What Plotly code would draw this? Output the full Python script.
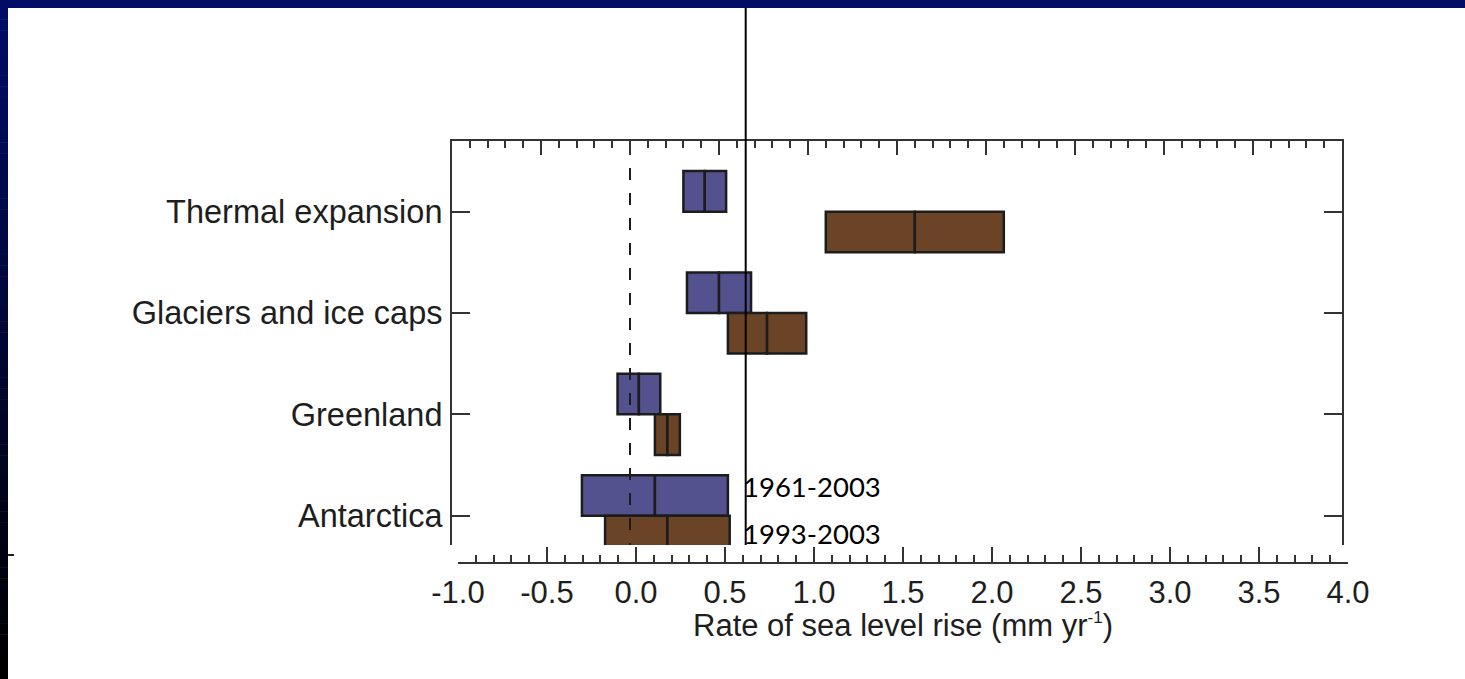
import plotly.graph_objects as go

# ---- data ----
components = ["Thermal expansion", "Glaciers and ice caps", "Greenland", "Antarctica"]
rate_1961_2003 = [0.42, 0.50, 0.05, 0.14]
err_1961_2003 = [0.12, 0.18, 0.12, 0.41]
rate_1993_2003 = [1.60, 0.77, 0.21, 0.21]
err_1993_2003 = [0.50, 0.22, 0.07, 0.35]
period_labels = ["1961-2003", "1993-2003"]
x_tick_values = [-1.0, -0.5, 0.0, 0.5, 1.0, 1.5, 2.0, 2.5, 3.0, 3.5, 4.0]
x_tick_labels = ["-1.0", "-0.5", "0.0", "0.5", "1.0", "1.5", "2.0", "2.5", "3.0", "3.5", "4.0"]
x_title = 'Rate of sea level rise (mm yr<sup><span style="font-size:17px">-1</span></sup>)'

# ---- layout geometry (pixels) ----
W, H = 1465, 679
L, R = 452, 1348          # plot area left/right (incl. shifted bottom axis)
T, B = 141, 563           # plot area top/bottom (bottom axis line)
BOX_R = 1342              # right edge of framed box
BOX_B = 545               # bottom edge of framed box
PW, PH = R - L, B - T

BLUE = "#54518F"
BROWN = "#6B4327"
EDGE = "#1c1c1c"
AX = "#333333"
TXT = "#1e1e1e"
FONT = "Liberation Sans, Arial, sans-serif"

ypos = [len(components) - 1 - i for i in range(len(components))]
bar_h = 0.4

fig = go.Figure()


def add_period(rates, errs, color, offset):
    lows = [r - e for r, e in zip(rates, errs)]
    highs = [r + e for r, e in zip(rates, errs)]
    # lower half (low -> median)
    fig.add_trace(go.Bar(
        orientation="h", y=ypos, base=lows,
        x=[r - lo for r, lo in zip(rates, lows)],
        width=bar_h, offset=offset,
        marker=dict(color=color, line=dict(color=EDGE, width=2.5)),
        showlegend=False, hoverinfo="skip"))
    # upper half (median -> high)
    fig.add_trace(go.Bar(
        orientation="h", y=ypos, base=rates,
        x=[hi - r for r, hi in zip(rates, highs)],
        width=bar_h, offset=offset,
        marker=dict(color=color, line=dict(color=EDGE, width=2.5)),
        showlegend=False, hoverinfo="skip"))


add_period(rate_1961_2003, err_1961_2003, BLUE, 0.0)
add_period(rate_1993_2003, err_1993_2003, BROWN, -bar_h)

# invisible trace to carry the bottom (shifted) axis
fig.add_trace(go.Scatter(x=[-1, 4], y=[0, 0], xaxis="x2", yaxis="y2",
                         mode="markers", marker=dict(opacity=0),
                         showlegend=False, hoverinfo="skip"))

y_lo, y_hi = -0.289, 3.697
box_frac = (BOX_R - L) / PW
ydom0 = (B - BOX_B) / PH


def px_x(px):
    return (px - L) / PW


def px_y(py):
    return (B - py) / PH


fig.update_layout(
    width=W, height=H,
    margin=dict(l=L, r=W - R, t=T, b=H - B, pad=0),
    paper_bgcolor="white", plot_bgcolor="rgba(0,0,0,0)",
    barmode="overlay",
    font=dict(family=FONT, size=31, color=TXT),
    xaxis=dict(
        domain=[0, box_frac], range=[-1, 4], side="top", anchor="y",
        showline=True, linecolor=AX, linewidth=2, mirror=False,
        ticks="inside", tick0=0, dtick=0.5, ticklen=14, tickwidth=2, tickcolor=AX,
        minor=dict(dtick=0.1, ticklen=7, tickwidth=2, tickcolor=AX, ticks="inside"),
        showticklabels=False, showgrid=False, zeroline=False, fixedrange=True),
    xaxis2=dict(
        domain=[px_x(458), 1], range=[-1, 4], anchor="free", position=0,
        side="bottom",
        showline=True, linecolor=AX, linewidth=2,
        ticks="inside", tickvals=x_tick_values, ticktext=x_tick_labels,
        ticklen=15, tickwidth=2, tickcolor=AX,
        minor=dict(dtick=0.1, ticklen=7, tickwidth=2, tickcolor=AX, ticks="inside"),
        tickfont=dict(size=31, color=TXT), ticklabelstandoff=2,
        showgrid=False, zeroline=False, fixedrange=True),
    yaxis=dict(
        domain=[ydom0, 1], range=[y_lo, y_hi], anchor="x",
        showline=True, linecolor=AX, linewidth=2, mirror="ticks",
        ticks="inside", tickvals=ypos, ticktext=components,
        ticklen=18, tickwidth=2, tickcolor=AX,
        tickfont=dict(size=32.5, color=TXT), ticklabelstandoff=1,
        showgrid=False, zeroline=False, fixedrange=True),
    yaxis2=dict(domain=[ydom0, 1], range=[y_lo, y_hi], anchor="x2",
                visible=False, fixedrange=True),
)

# x-axis title
fig.add_annotation(x=px_x(903), y=px_y(625), xref="paper", yref="paper",
                   text=x_title, showarrow=False, xanchor="center", yanchor="middle",
                   font=dict(family=FONT, size=31, color=TXT))

# dashed zero line
fig.add_shape(type="line", xref="x", yref="y domain", x0=0, x1=0,
              y0=(BOX_B - 168) / (BOX_B - T), y1=0,
              line=dict(color=EDGE, width=2, dash="12px,13px"))

# solid vertical marker line (slide annotation)
fig.add_shape(type="line", xref="x", yref="paper", x0=0.65, x1=0.65,
              y0=px_y(8), y1=px_y(BOX_B),
              line=dict(color="black", width=2))

# period labels
fig.add_annotation(x=0.625, y=0.293, xref="x", yref="y", text=period_labels[0],
                   showarrow=False, xanchor="left", yanchor="middle",
                   font=dict(family="Lato, sans-serif", size=27.5, color="black"))
fig.add_annotation(x=0.625, y=-0.18, xref="x", yref="y", text=period_labels[1],
                   showarrow=False, xanchor="left", yanchor="middle",
                   font=dict(family="Lato, sans-serif", size=27.5, color="black"))

# slide frame: top navy band and left gradient band
fig.add_shape(type="rect", xref="paper", yref="paper",
              x0=px_x(0), x1=px_x(W), y0=px_y(8), y1=px_y(0),
              fillcolor="#000C66", line=dict(width=0), layer="above")
n = 60
for i in range(n):
    t = i / (n - 1)
    c = "rgb(0,{},{})".format(int(round(12 * (1 - t))), int(round(102 * (1 - t))))
    y0 = 8 + (H - 8) * i / n
    y1 = 8 + (H - 8) * (i + 1) / n + 0.5
    fig.add_shape(type="rect", xref="paper", yref="paper",
                  x0=px_x(0), x1=px_x(8), y0=px_y(y1), y1=px_y(y0),
                  fillcolor=c, line=dict(width=0), layer="above")

# small tick on the left edge
fig.add_shape(type="line", xref="paper", yref="paper",
              x0=px_x(8), x1=px_x(14), y0=px_y(555), y1=px_y(555),
              line=dict(color="#222222", width=2))

fig.write_html("out.html",
               config={"displayModeBar": False},
               post_script="document.body.style.margin='0';"
                           "document.body.style.overflow='hidden';")
